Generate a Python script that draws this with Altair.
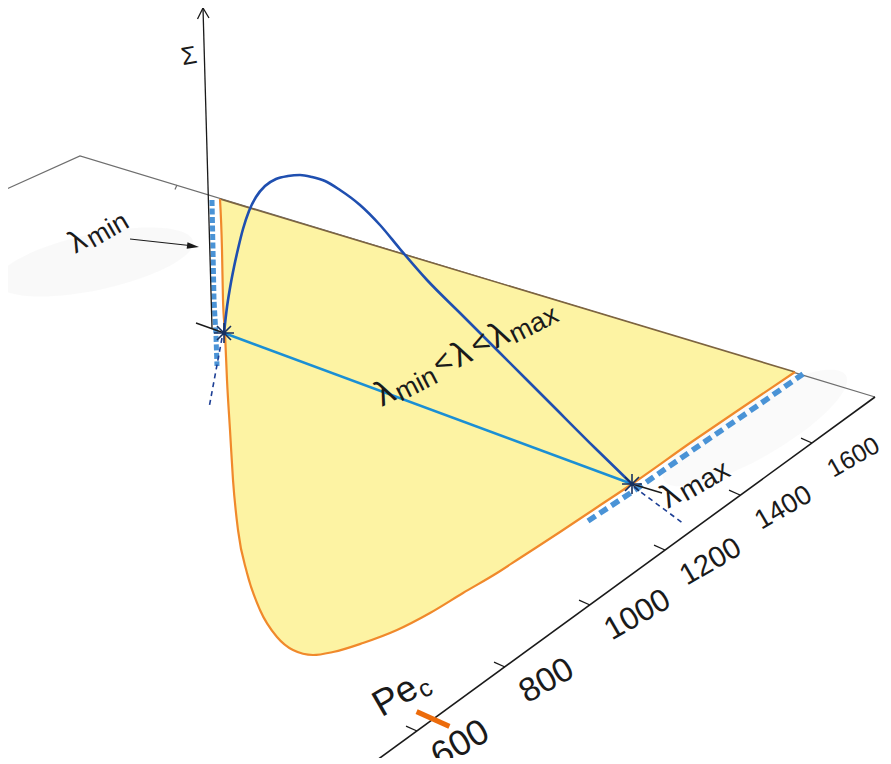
import altair as alt
import pandas as pd

# ---------------- values (picture px, y downward) ----------------
back_edge_x = [0, 80, 875]
back_edge_y = [192, 156, 397]
back_tick_x = [177, 323, 485]
back_tick_y = [185, 230, 279]

pe_axis_x = [362, 875]
pe_axis_y = [771, 397]
pe_ticks = [600, 800, 1000, 1200, 1400, 1600]
pe_tick_x = [417, 505, 590, 665, 740, 812]
pe_tick_y = [731, 667, 605, 550, 495, 443]
pe_c_x = [433]
pe_c_y = [719]

# neutral curve (orange) bounding the unstable (yellow) region
neutral_x = [220, 222, 223, 225, 227, 230, 233, 238, 247, 260, 277, 293, 313, 333, 363,
             397, 430, 463, 497, 520, 560, 596, 632, 693, 743, 795]
neutral_y = [199, 250, 300, 333, 380, 430, 480, 530, 573, 610, 637, 650, 655, 652, 643,
             630, 613, 593, 573, 558, 532, 508, 484, 441, 407, 372]
top_edge_x = [220, 795]
top_edge_y = [199, 372]

# growth-rate curve Sigma(lambda)
sigma_x = [224, 227, 230, 234, 238, 243, 249, 256, 265, 276, 288, 300, 312, 325, 340,
           360, 380, 400, 427, 460, 500, 550, 595, 632]
sigma_y = [333, 307, 288, 267, 249, 229, 211, 197, 186, 179, 176, 175, 177, 181, 190,
           205, 225, 249, 280, 313, 353, 403, 448, 484]

lam_pts_x = [224, 632]
lam_pts_y = [333, 484]

band_min_x = [212, 214, 216, 217]
band_min_y = [200, 300, 336, 366]
band_max_x = [588, 632, 700, 760, 803]
band_max_y = [521, 492, 445, 404, 374]

thin_dash_x = [222, 209, 634, 684]
thin_dash_y = [338, 408, 487, 524]
thin_dash_seg = [0, 0, 1, 1]

black_tick_x = [196, 224, 632, 662]
black_tick_y = [323, 333, 484, 493]
black_tick_seg = [0, 0, 1, 1]

sigma_axis_x = [212, 203]
sigma_axis_y = [328, 8]

arrow_x = [130, 194]
arrow_y = [239, 246]
arrow_head_x = [199]
arrow_head_y = [247]

# faint grey smudges of the original figure
smudge_x = [95, 755]
smudge_y = [262, 428]

# ---------------- styling ----------------
FONT = "Liberation Sans"
INK = "#1a1a1a"
YELLOW = "#fdf3a3"
ORANGE = "#f0892b"
DARKBLUE = "#1f4fb0"
LIGHTBLUE = "#1b8fd4"
BANDBLUE = "#4a93d6"
NAVY = "#1d3f95"

XS = alt.Scale(domain=[8, 883], nice=False, zero=False)
YS = alt.Scale(domain=[8, 758], nice=False, zero=False, reverse=True)
X = alt.X("x:Q", scale=XS, axis=None)
Y = alt.Y("y:Q", scale=YS, axis=None)


def frame(xs, ys, seg=None):
    d = {"x": xs, "y": ys, "i": list(range(len(xs)))}
    d["seg"] = seg if seg is not None else [0] * len(xs)
    return pd.DataFrame(d)


def path(xs, ys, seg=None, **mk):
    return alt.Chart(frame(xs, ys, seg)).mark_line(**mk).encode(
        x=X, y=Y, order="i:Q", detail="seg:N")


def symbol(xs, ys, shape, size, **mk):
    mk.setdefault("opacity", 1)
    return alt.Chart(frame(xs, ys)).mark_point(shape=shape, size=size, **mk).encode(x=X, y=Y)


def label(x, y, text, size, angle, dx=0, dy=0, align="left"):
    df = pd.DataFrame({"x": [x], "y": [y], "t": [text]})
    return alt.Chart(df).mark_text(
        fontSize=size, angle=angle, dx=dx, dy=dy, align=align, baseline="middle",
        font=FONT, color=INK).encode(x=X, y=Y, text="t:N")


def compound(x, y, angle, pieces):
    """pieces: (text, fontSize, dx, dy) drawn in the rotated frame of one anchor"""
    return [label(x, y, t, s, angle, dx, dy) for (t, s, dx, dy) in pieces]


ELLIPSE = "M-1,0A1,0.28,0,1,0,1,0A1,0.28,0,1,0,-1,0Z"

layers = []

# faint smudges
layers.append(alt.Chart(frame(smudge_x[:1], smudge_y[:1])).mark_point(
    shape=ELLIPSE, size=200 * 200, filled=True, color="#f1f1f1", opacity=0.45, angle=348
).encode(x=X, y=Y))
layers.append(alt.Chart(frame(smudge_x[1:], smudge_y[1:])).mark_point(
    shape=ELLIPSE, size=210 * 210, filled=True, color="#f2f2f2", opacity=0.4, angle=330
).encode(x=X, y=Y))

# floor back edge (gray) and yellow unstable region
layers.append(path(back_edge_x, back_edge_y, color="#6e6e6e", strokeWidth=1.3))
layers.append(symbol(back_tick_x, back_tick_y, "M0,0L-0.45,1", 81,
                     filled=False, color="#6e6e6e", strokeWidth=1.2))
layers.append(path(neutral_x, neutral_y, fill=YELLOW, color=YELLOW, strokeWidth=0,
                   interpolate="monotone"))
layers.append(path(top_edge_x, top_edge_y, color="#7d6440", strokeWidth=1.6))
layers.append(path(neutral_x, neutral_y, color=ORANGE, strokeWidth=2.2,
                   interpolate="monotone"))

# thick dashed bands along lambda_min / lambda_max
layers.append(path(band_min_x, band_min_y, color=BANDBLUE, strokeWidth=5,
                   strokeDash=[6, 2.5], strokeCap="butt"))
layers.append(path(band_max_x, band_max_y, color=BANDBLUE, strokeWidth=5.5,
                   strokeDash=[9, 5], strokeCap="butt"))

# Pe axis
layers.append(path(pe_axis_x, pe_axis_y, color=INK, strokeWidth=1.6))
layers.append(symbol(pe_tick_x, pe_tick_y, "M0,0L-1,-0.45", 484,
                     filled=False, color=INK, strokeWidth=1.3))
layers.append(symbol(pe_c_x, pe_c_y, "M-1,-0.45L1,0.45", 1076,
                     filled=False, color="#ec6b0b", strokeWidth=5, strokeCap="butt"))
pe_df = pd.DataFrame({"x": pe_tick_x, "y": pe_tick_y, "pe": pe_ticks,
                      "t": [str(v) for v in pe_ticks]})
layers.append(alt.Chart(pe_df).mark_text(
    angle=330, dx=1, dy=33, align="left", baseline="middle", font=FONT, color=INK
).encode(x=X, y=Y, text="t:N",
         size=alt.Size("pe:Q", scale=alt.Scale(domain=[600, 1600], range=[36, 25]),
                       legend=None)))
layers += compound(376, 708, 330, [("Pe", 37, 0, 0), ("c", 25, 46, 8)])

# thin dashed tangents, light-blue chord, growth-rate curve
layers.append(path(thin_dash_x, thin_dash_y, thin_dash_seg, color=NAVY,
                   strokeWidth=1.6, strokeDash=[5, 4]))
layers.append(path(lam_pts_x, lam_pts_y, color=LIGHTBLUE, strokeWidth=2.6))
layers.append(path(sigma_x, sigma_y, color=DARKBLUE, strokeWidth=2.6,
                   interpolate="monotone"))

# Sigma axis with open arrow head
layers.append(path(sigma_axis_x, sigma_axis_y, color=INK, strokeWidth=1.3))
layers.append(symbol([sigma_axis_x[1]], [sigma_axis_y[1]], "M-0.55,1.1L0,0L0.6,1.0", 400,
                     filled=False, color=INK, strokeWidth=1.3))
layers.append(label(189, 56, "Σ", 25, 350, align="center"))

# black markers at lambda_min / lambda_max
layers.append(path(black_tick_x, black_tick_y, black_tick_seg, color=INK, strokeWidth=1.4))
layers.append(symbol(lam_pts_x, lam_pts_y,
                     "M-1,0L1,0M0,-1L0,1M-0.7,-0.7L0.7,0.7M-0.7,0.7L0.7,-0.7", 400,
                     filled=False, color="#17305f", strokeWidth=1.6))

# lambda_min pointer
layers.append(path(arrow_x, arrow_y, color=INK, strokeWidth=1.2))
layers.append(symbol(arrow_head_x, arrow_head_y, "M0,0L-2,-0.55L-2,0.55Z", 144,
                     filled=True, color=INK, angle=7))

# texts
layers += compound(71, 246, 330, [("λ", 31, 0, 0), ("min", 27, 18, 5)])
layers += compound(663, 500, 330, [("λ", 33, 0, 0), ("max", 28, 19, 5)])
layers += compound(377, 397, 333, [
    ("λ", 35, 0, 0), ("min", 27, 19, 7), ("<", 31, 65, 0), ("λ", 35, 86, 0),
    ("<", 31, 107, 0), ("λ", 35, 128, 0), ("max", 27, 147, 7)])

chart = alt.layer(*layers).properties(
    width=875, height=750, padding=0,
    autosize=alt.AutoSizeParams(type="none"),
    background="white",
).configure_view(strokeWidth=0)

chart.save("out.html", embed_options={"renderer": "svg", "actions": False})
